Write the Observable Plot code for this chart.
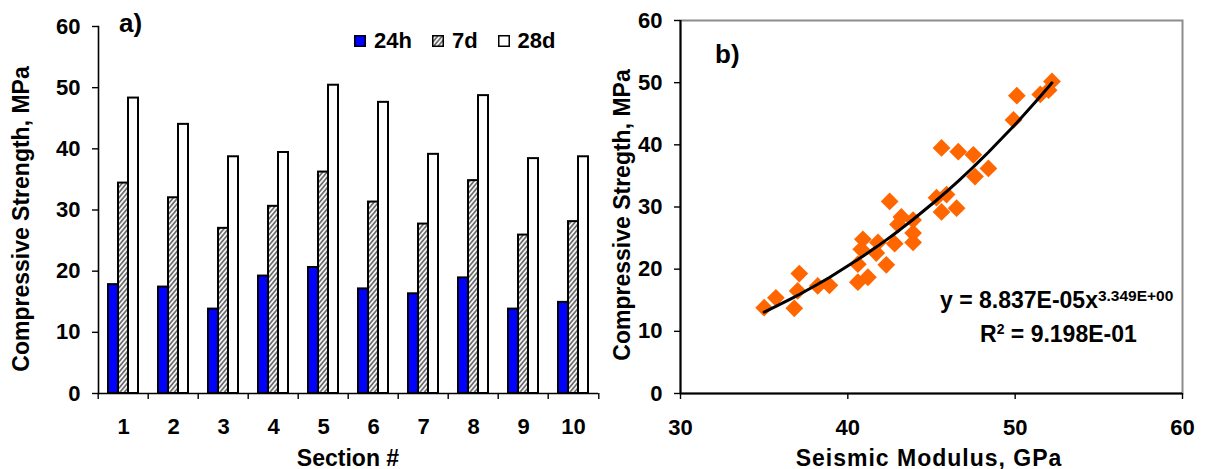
<!DOCTYPE html>
<html><head><meta charset="utf-8">
<script src="https://cdn.jsdelivr.net/npm/d3@7"></script>
<script src="https://cdn.jsdelivr.net/npm/@observablehq/plot@0.6"></script>
<style>
body{margin:0;background:#fff;font-family:"Liberation Sans",Arial,sans-serif;font-weight:bold;}
#wrap{position:relative;width:1205px;height:469px;overflow:hidden;background:#fff;}
#wrap svg{position:absolute;top:0;}
.abs{position:absolute;white-space:nowrap;color:#000;line-height:1;font-weight:bold;}
.rot{transform:translate(-50%,-50%) rotate(-90deg);}
.ctr{transform:translate(-50%,-50%);}
.legend{display:flex;align-items:center;font-size:22px;}
.legend svg{position:static !important;margin-right:8px;}
.legend span{margin-right:20px;}
</style></head><body><div id="wrap"></div>
<script>
// ---------- Data (panel a) ----------
const sections = [1,2,3,4,5,6,7,8,9,10];
const ages = ["24h","7d","28d"];
const strength24h = [17.8,17.4,13.8,19.2,20.6,17.1,16.3,18.9,13.8,14.9];
const strength7d  = [34.4,32.0,27.0,30.6,36.2,31.3,27.7,34.8,25.9,28.1];
const strength28d = [48.3,44.0,38.7,39.4,50.4,47.6,39.1,48.7,38.4,38.7];
const ageColors = ["#0000FF","url(#hatch7d)","#FFFFFF"];
const yTicks = [0,10,20,30,40,50,60];

// ---------- Data (panel b) ----------
const modulus      = [35.0,35.7,36.8,37.1,37.0,38.2,38.9,40.6,41.2,40.6,42.3,40.9,40.8,41.8,41.7,42.8,42.5,43.2,43.0,43.9,43.9,43.9,45.3,45.9,45.6,46.5,45.6,46.6,47.5,48.4,47.6,49.9,50.1,51.5,52.0,52.2];
const compStrength = [13.8,15.4,13.7,19.3,16.5,17.3,17.4,17.9,18.7,20.8,20.7,24.8,23.2,24.3,22.6,24.1,30.9,28.4,27.2,25.8,24.3,27.9,31.5,32.0,29.2,29.8,39.5,38.9,38.4,36.2,34.9,44.0,47.9,48.1,48.8,50.2];
const xTicksB = [30,40,50,60];
const fitCoef = 8.837e-5, fitExp = 3.349;   // from the chart's equation
const eqText = "y = 8.837E-05x", eqExp = "3.349E+00";
const r2Text = " = 9.198E-01";

// ---------- Build tables ----------
const series = [strength24h, strength7d, strength28d];
const barRows = [];
sections.forEach((s,i)=>ages.forEach((a,j)=>barRows.push({section:s, age:a, value:series[j][i]})));
const points = modulus.map((m,i)=>({modulus:m, strength:compStrength[i]}));
const fitRows = [...new Set(modulus)].sort((a,b)=>a-b).map(x=>({modulus:x, strength:fitCoef*Math.pow(x,fitExp)}));

const font = '"Liberation Sans", Arial, sans-serif';
const wrap = document.getElementById("wrap");

// ---------- Panel a ----------
const WA = 605, mLA = 95, mRA = 4;
const step = (WA - mLA - mRA) / sections.length;
const plotA = Plot.plot({
  width: WA, height: 469,
  marginLeft: mLA, marginRight: mRA, marginTop: 26, marginBottom: 76,
  style: {fontFamily: font, fontWeight: "bold", fontSize: "22px", color: "#000", background: "transparent", overflow: "visible"},
  fx: {domain: sections, padding: 0, label: null},
  x: {domain: ages, paddingInner: 0, paddingOuter: 0.8, axis: null},
  y: {domain: [0,60], axis: null},
  color: {domain: ages, range: ageColors},
  marks: [
    Plot.barY(barRows, {fx: "section", x: "age", y: "value", fill: "age", stroke: "#000", strokeWidth: 2}),
    Plot.ruleY([0], {stroke: "#000", strokeWidth: 1.6}),
    Plot.frame({anchor: "left", facetAnchor: "left", stroke: "#000", strokeWidth: 1.6}),
    Plot.axisY({ticks: yTicks, tickSize: 6, tickPadding: 12, label: null, fontSize: 22, strokeWidth: 1.4}),
    Plot.axisFx({anchor: "bottom", tickSize: 0, tickPadding: 25, label: null, fontSize: 22}),
    Plot.axisFx({anchor: "bottom", tickSize: 6, tickFormat: () => "", dx: -step/2, label: null, strokeWidth: 1.4}),
    Plot.axisFx({anchor: "bottom", ticks: [sections[sections.length-1]], tickSize: 6, tickFormat: () => "", dx: step/2, label: null, strokeWidth: 1.4})
  ]
});
const ns = "http://www.w3.org/2000/svg";
const defs = document.createElementNS(ns, "defs");
defs.innerHTML = `<pattern id="hatch7d" patternUnits="userSpaceOnUse" width="3.4" height="3.4" patternTransform="rotate(40)">
<rect width="3.4" height="3.4" fill="#f4f4f4"/><line x1="1.7" y1="0" x2="1.7" y2="3.4" stroke="#444" stroke-width="1.3"/></pattern>`;
plotA.insertBefore(defs, plotA.firstChild);
plotA.style.left = "0px";
wrap.appendChild(plotA);

// ---------- Panel b ----------
const plotB = Plot.plot({
  width: 605, height: 469,
  marginLeft: 80, marginRight: 23, marginTop: 20, marginBottom: 76,
  style: {fontFamily: font, fontWeight: "bold", fontSize: "22px", color: "#000", background: "transparent", overflow: "visible"},
  x: {domain: [30,60], axis: null},
  y: {domain: [0,60], axis: null},
  marks: [
    Plot.frame({stroke: "#8c8c8c", strokeWidth: 2}),
    Plot.ruleX([30], {stroke: "#000", strokeWidth: 2}),
    Plot.ruleY([0], {stroke: "#000", strokeWidth: 2}),
    Plot.dot(points, {x: "modulus", y: "strength", symbol: "diamond2", r: 8, fill: "#FF6600", stroke: "none"}),
    Plot.line(fitRows, {x: "modulus", y: "strength", stroke: "#000", strokeWidth: 3}),
    Plot.axisX({ticks: xTicksB, tickSize: 6, tickPadding: 20, label: null, fontSize: 22, strokeWidth: 1.4}),
    Plot.axisY({ticks: yTicks, tickSize: 6, tickPadding: 12, label: null, fontSize: 22, strokeWidth: 1.4})
  ]
});
plotB.style.left = "600px";
wrap.appendChild(plotB);

// ---------- Text overlays ----------
function addText(html, css, cls) {
  const d = document.createElement("div");
  d.className = "abs " + (cls || "");
  d.innerHTML = html;
  Object.assign(d.style, css);
  wrap.appendChild(d);
  return d;
}
addText("a)", {left: "119px", top: "10px", fontSize: "26px"});
addText("b)", {left: "715px", top: "41px", fontSize: "26px"});
addText("Compressive Strength, MPa", {left: "21px", top: "219px", fontSize: "23px"}, "rot");
addText("Section #", {left: "348px", top: "458px", fontSize: "23px"}, "ctr");
addText("Compressive Stregth, MPa", {left: "622px", top: "215px", fontSize: "23px"}, "rot");
addText("Seismic Modulus, GPa", {left: "929px", top: "458px", fontSize: "23px", letterSpacing: "1px"}, "ctr");
addText(`${eqText}<span style="font-size:15.5px;position:relative;top:-7px">${eqExp}</span>`, {left: "940px", top: "289px", fontSize: "23px"});
addText(`R<span style="font-size:14px;position:relative;top:-8px">2</span>${r2Text}`, {left: "980px", top: "323px", fontSize: "23px"});

// legend
const leg = addText("", {left: "354px", top: "30px"}, "legend");
ages.forEach((a,i)=>{
  leg.insertAdjacentHTML("beforeend",
    `<svg width="12" height="12"><rect x="0.75" y="0.75" width="10.5" height="10.5" fill="${ageColors[i]}" stroke="#000" stroke-width="1.5"/></svg><span>${a}</span>`);
});
</script>
</body></html>
